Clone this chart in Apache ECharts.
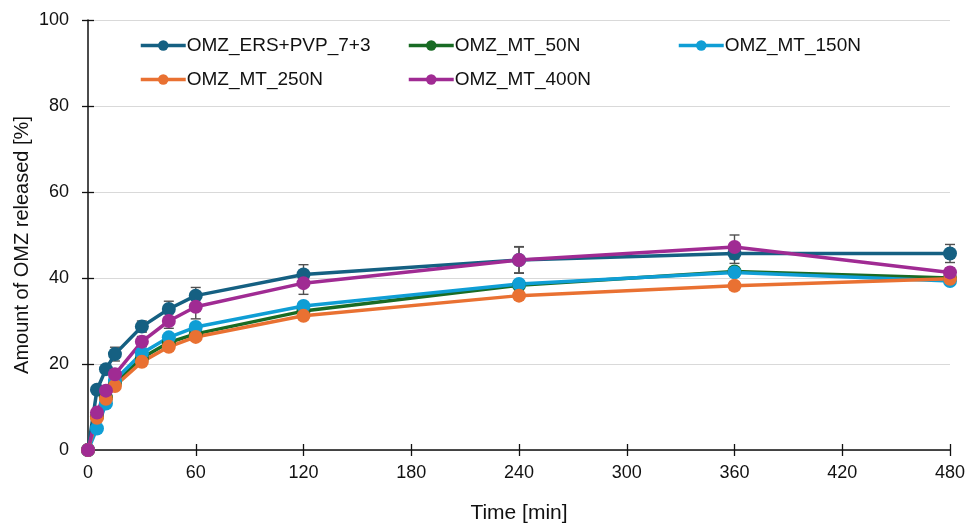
<!DOCTYPE html>
<html>
<head>
<meta charset="utf-8">
<script src="https://cdn.jsdelivr.net/npm/echarts@6/dist/echarts.min.js"></script>
<style>
  html, body { margin: 0; padding: 0; background: #ffffff; }
  #chart { width: 966px; height: 523px; }
</style>
</head>
<body>
<div id="chart"></div>
<script>
// Sampling times [min]
const times = [0, 5, 10, 15, 30, 45, 60, 120, 240, 360, 480];
const xTicks = [0, 60, 120, 180, 240, 300, 360, 420, 480];
const yTicks = [0, 20, 40, 60, 80, 100];

// Cumulative release [%]
const seriesNames = ['OMZ_ERS+PVP_7+3', 'OMZ_MT_50N', 'OMZ_MT_150N', 'OMZ_MT_250N', 'OMZ_MT_400N'];
const ersPvp = [0, 14.0, 18.8, 22.3, 28.7, 32.8, 35.9, 40.8, 44.2, 45.7, 45.7];
const mt50 = [0, 7.8, 12.2, 15.6, 21.4, 25.0, 27.0, 32.3, 38.3, 41.5, 40.0];
const mt150 = [0, 5.0, 10.8, 16.3, 22.5, 26.2, 28.6, 33.5, 38.6, 41.3, 39.3];
const mt250 = [0, 7.5, 11.9, 14.9, 20.5, 24.0, 26.3, 31.2, 35.9, 38.2, 39.8];
const mt400 = [0, 8.7, 13.8, 17.6, 25.2, 30.0, 33.3, 38.8, 44.2, 47.2, 41.3];

// Standard deviations [%]
const ersPvpSd = [0, 0.6, 0.8, 1.6, 1.3, 1.8, 1.9, 2.3, 3.1, 2.3, 2.1];
const mt50Sd = [0, 0.4, 0.5, 0.5, 0.6, 0.6, 0.7, 0.8, 0.9, 0.9, 0.8];
const mt150Sd = [0, 0.4, 0.5, 0.5, 0.6, 0.6, 0.7, 0.8, 0.9, 0.9, 0.8];
const mt250Sd = [0, 0.4, 0.5, 0.5, 0.6, 0.6, 0.7, 0.8, 0.9, 0.9, 0.8];
const mt400Sd = [0, 0.6, 0.8, 1.0, 1.2, 1.7, 2.8, 2.6, 3.0, 2.8, 1.0];

const colors = ['#156082', '#196B24', '#0F9ED5', '#E97132', '#A02B93'];
const values = [ersPvp, mt50, mt150, mt250, mt400];
const sds = [ersPvpSd, mt50Sd, mt150Sd, mt250Sd, mt400Sd];

const FONT = 'Liberation Sans, Arial, sans-serif';

// Legend slots: three columns, two rows
const legendPos = [
  { left: 139, top: 36 }, { left: 407, top: 36 }, { left: 677, top: 36 },
  { left: 139, top: 70 }, { left: 407, top: 70 }
];

const legends = seriesNames.map((name, i) => ({
  data: [name],
  left: legendPos[i].left,
  top: legendPos[i].top,
  itemWidth: 45,
  itemHeight: 13,
  itemGap: 0,
  padding: 0,
  selectedMode: false,
  lineStyle: { width: 3.5 },
  textStyle: { fontFamily: FONT, fontSize: 19, color: '#111111', padding: [0, 0, 0, -4] }
}));

function errorBarSeries(idx) {
  const data = times.map((t, k) => [t, values[idx][k] - sds[idx][k], values[idx][k] + sds[idx][k]]);
  return {
    type: 'custom',
    name: seriesNames[idx] + ' SD',
    silent: true,
    z: 1,
    data: data,
    encode: { x: 0, y: [1, 2] },
    renderItem: function (params, api) {
      const x = api.value(0);
      const lo = api.coord([x, api.value(1)]);
      const hi = api.coord([x, api.value(2)]);
      const half = 5;
      const style = { stroke: '#505050', lineWidth: 1.4, fill: null };
      return {
        type: 'group',
        children: [
          { type: 'line', shape: { x1: lo[0], y1: lo[1], x2: hi[0], y2: hi[1] }, style: style },
          { type: 'line', shape: { x1: lo[0] - half, y1: lo[1], x2: lo[0] + half, y2: lo[1] }, style: style },
          { type: 'line', shape: { x1: hi[0] - half, y1: hi[1], x2: hi[0] + half, y2: hi[1] }, style: style }
        ]
      };
    }
  };
}

const lineSeries = seriesNames.map((name, i) => ({
  type: 'line',
  name: name,
  data: times.map((t, k) => [t, values[i][k]]),
  symbol: 'circle',
  symbolSize: 14,
  z: 3,
  color: colors[i],
  lineStyle: { width: 3.5, color: colors[i] },
  itemStyle: { color: colors[i] },
  emphasis: { disabled: true }
}));

const chart = echarts.init(document.getElementById('chart'), null, { renderer: 'canvas' });

chart.setOption({
  animation: false,
  backgroundColor: '#ffffff',
  legend: legends,
  grid: { left: 88, right: 16, top: 20, bottom: 73, containLabel: false, outerBoundsMode: 'none' },
  graphic: [
    {
      type: 'text',
      x: 22, y: 245,
      rotation: Math.PI / 2,
      style: {
        text: 'Amount of OMZ released [%]',
        fontFamily: FONT, fontSize: 20, fill: '#111111',
        align: 'center', verticalAlign: 'middle'
      }
    }
  ],
  xAxis: [
    {
      type: 'value',
      min: 0, max: 480, interval: 60,
      name: 'Time [min]',
      nameLocation: 'middle',
      nameGap: 53,
      nameTextStyle: { fontFamily: FONT, fontSize: 21, color: '#111111' },
      axisLine: { show: true, lineStyle: { color: '#111111', width: 1.5 } },
      axisTick: { show: true, length: 6, lineStyle: { color: '#111111', width: 1.3 } },
      axisLabel: {
        margin: 14, fontFamily: FONT, fontSize: 18, color: '#111111',
        formatter: v => (xTicks.indexOf(v) >= 0 ? String(v) : '')
      },
      splitLine: { show: false }
    },
    {
      type: 'value',
      position: 'bottom',
      min: 0, max: 480, interval: 60,
      axisLine: { show: false },
      axisTick: { show: true, inside: true, length: 6, lineStyle: { color: '#111111', width: 1.3 } },
      axisLabel: { show: false },
      splitLine: { show: false }
    }
  ],
  yAxis: [
    {
      type: 'value',
      min: 0, max: 100, interval: 20,
      axisLine: { show: true, lineStyle: { color: '#111111', width: 1.5 } },
      axisTick: { show: true, length: 6, lineStyle: { color: '#111111', width: 1.3 } },
      axisLabel: {
        margin: 19, fontFamily: FONT, fontSize: 18, color: '#111111',
        formatter: v => (yTicks.indexOf(v) >= 0 ? String(v) : '')
      },
      splitLine: { show: true, lineStyle: { color: '#d9d9d9', width: 1.2 } }
    },
    {
      type: 'value',
      position: 'left',
      min: 0, max: 100, interval: 20,
      axisLine: { show: false },
      axisTick: { show: true, inside: true, length: 6, lineStyle: { color: '#111111', width: 1.3 } },
      axisLabel: { show: false },
      splitLine: { show: false }
    }
  ],
  series: [
    errorBarSeries(0), errorBarSeries(4), errorBarSeries(1), errorBarSeries(2), errorBarSeries(3)
  ].concat(lineSeries)
});
</script>
</body>
</html>
